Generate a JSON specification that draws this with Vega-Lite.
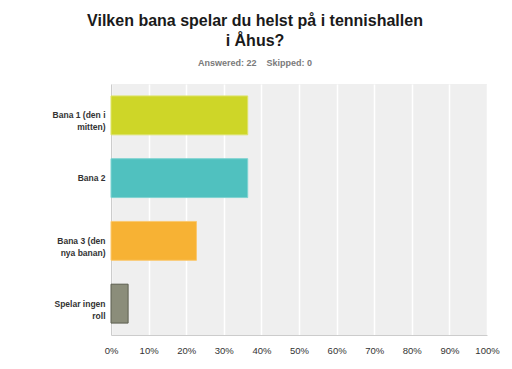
{
  "$schema": "https://vega.github.io/schema/vega-lite/v6.json",
  "width": 376,
  "height": 251,
  "autosize": {"type": "none"},
  "padding": {"left": 111, "top": 84, "right": 25, "bottom": 34},
  "background": "white",
  "config": {
    "view": {"fill": "#efefef", "stroke": null},
    "font": "Liberation Sans"
  },
  "title": {
    "text": ["Vilken bana spelar du helst på i tennishallen", "i Åhus?"],
    "subtitle": "Answered: 22\u00a0\u00a0\u00a0\u00a0Skipped: 0",
    "font": "Liberation Sans",
    "fontSize": 16,
    "fontWeight": "bold",
    "color": "#1a1a1a",
    "lineHeight": 20,
    "subtitleFont": "Liberation Sans",
    "subtitleFontSize": 9,
    "subtitleFontWeight": "bold",
    "subtitleColor": "#7a7a7a",
    "subtitlePadding": 10,
    "anchor": "middle",
    "dx": -44,
    "offset": 16
  },
  "data": {
    "values": [
      {"answer": "Bana 1 (den i mitten)", "share": 0.3636},
      {"answer": "Bana 2", "share": 0.3636},
      {"answer": "Bana 3 (den nya banan)", "share": 0.2273},
      {"answer": "Spelar ingen roll", "share": 0.0455}
    ]
  },
  "mark": {"type": "bar", "strokeWidth": 1},
  "encoding": {
    "y": {
      "field": "answer",
      "type": "nominal",
      "sort": null,
      "scale": {"paddingInner": 0.38, "paddingOuter": 0.19},
      "axis": {
        "title": null,
        "ticks": false,
        "domain": true,
        "domainColor": "#cccccc",
        "domainWidth": 1,
        "labelFont": "Liberation Sans",
        "labelFontSize": 8.5,
        "labelFontWeight": "bold",
        "labelColor": "#333333",
        "labelPadding": 6,
        "labelLineHeight": 12,
        "labelExpr": "datum.label == 'Bana 1 (den i mitten)' ? ['Bana 1 (den i', 'mitten)'] : datum.label == 'Bana 3 (den nya banan)' ? ['Bana 3 (den', 'nya banan)'] : datum.label == 'Spelar ingen roll' ? ['Spelar ingen', 'roll'] : datum.label"
      }
    },
    "x": {
      "field": "share",
      "type": "quantitative",
      "scale": {"domain": [0, 1], "nice": false},
      "axis": {
        "title": null,
        "format": ".0%",
        "values": [0, 0.1, 0.2, 0.3, 0.4, 0.5, 0.6, 0.7, 0.8, 0.9, 1],
        "ticks": false,
        "domain": true,
        "domainColor": "#cccccc",
        "grid": true,
        "gridColor": "#ffffff",
        "gridWidth": 1.5,
        "labelFont": "Liberation Sans",
        "labelFontSize": 9.5,
        "labelColor": "#333333",
        "labelPadding": 10,
        "labelFlush": false
      }
    },
    "color": {
      "field": "answer",
      "type": "nominal",
      "sort": null,
      "legend": null,
      "scale": {"range": ["#ced628", "#50c1bf", "#f7b234", "#8b8d7a"]}
    },
    "stroke": {
      "field": "answer",
      "type": "nominal",
      "sort": null,
      "legend": null,
      "scale": {"range": ["#dde36a", "#7fd3d1", "#fac870", "#5d5f50"]}
    }
  }
}
